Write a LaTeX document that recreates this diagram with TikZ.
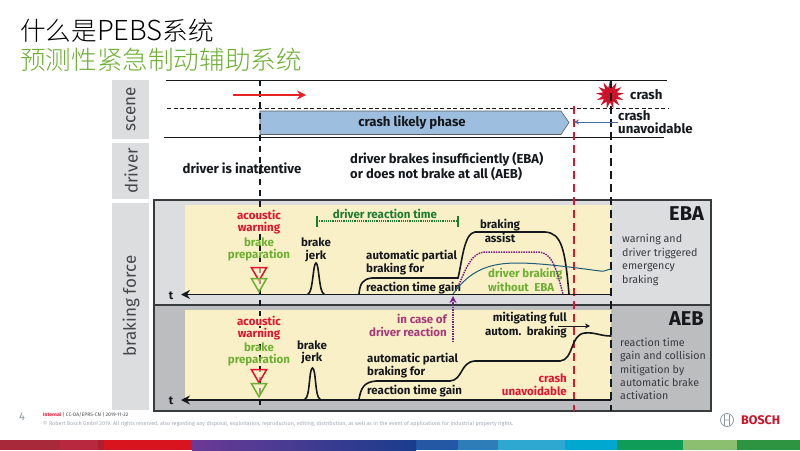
\documentclass[tikz,border=0pt]{standalone}
\usepackage{fontspec}
\setmainfont{Fira Sans}
\newfontfamily\cjk{Noto Sans CJK SC}[UprightFont=* Light]
\usetikzlibrary{arrows.meta, positioning, shapes.geometric}
\definecolor{ink}{HTML}{15181C}
\definecolor{panel}{HTML}{DCDDDF}
\definecolor{panelD}{HTML}{BCBDBF}
\definecolor{sand}{HTML}{FAF0C8}
\definecolor{phase}{HTML}{9DBEDF}
\definecolor{alarm}{HTML}{E2142D}
\definecolor{leaf}{HTML}{6CAF33}
\definecolor{forest}{HTML}{1E7A32}
\definecolor{plum}{HTML}{7B1E8C}
\definecolor{rose}{HTML}{A83A78}
\definecolor{steel}{HTML}{4A6FA0}
\definecolor{teal}{HTML}{1F5C7A}
\definecolor{soft}{HTML}{8A94A0}
\tikzset{
  lanetxt/.style={rotate=90, font=\fontsize{17}{17}\selectfont, text=ink!80},
  lbl/.style={font=\fontsize{11.5}{12}\bfseries\selectfont, inner sep=0pt, text=ink},
  big/.style={lbl, font=\fontsize{13.2}{12.5}\bfseries\selectfont},
  note/.style={font=\fontsize{10.7}{13.4}\selectfont, inner sep=0pt, anchor=west, align=left, text=ink!85},
  tag/.style={font=\fontsize{20}{20}\bfseries\selectfont, inner sep=0pt, anchor=east, text=ink},
  warn/.style={lbl, text=alarm},
  prep/.style={lbl, text=leaf},
  curve/.style={ink, line width=1.6pt, line cap=round},
  axis/.style={ink, line width=1.6pt, -{Stealth[length=9pt,width=9pt]}},
  mark/.style={draw=#1, fill=sand, fill opacity=0.6, line width=1.5pt, regular polygon, regular polygon sides=3, shape border rotate=180, minimum size=17.5pt, inner sep=0pt},
}
\begin{document}
\begin{tikzpicture}[x=1pt, y=-1pt]
    \useasboundingbox (0,0) rectangle (800,450);
    % title
    \node[anchor=west, inner sep=0pt, font=\fontsize{25.6}{26}\selectfont] (head) at (20,31) {\cjk 什么是{\fontsize{27.5}{26}\selectfont PEBS}系统};
    \node[anchor=west, inner sep=0pt, font=\fontsize{25.6}{26}\selectfont, text=leaf] (subhead) at (20,60) {\cjk 预测性紧急制动辅助系统};
    % lanes on the left
    \fill[panel] (112,80) rectangle (149,139);
    \fill[panel] (112,143) rectangle (149,199);
    \fill[panel] (112,203) rectangle (149,410);
    \node[lanetxt] (scene) at (131,109) {scene};
    \node[lanetxt] (driver) at (131,171) {driver};
    \node[lanetxt] (force) at (131,306) {braking force};
    % panels
    \fill[panel] (154,200) rectangle (711,305);
    \fill[panelD] (154,305) rectangle (711,411);
    \fill[sand] (185,205) rectangle (611,294);
    \fill[sand] (185,310) rectangle (611,399);
    \draw[ink!85, line width=1.3pt] (154,200) rectangle (711,411);
    \draw[ink!85, line width=1.3pt] (154,305) -- (711,305);
    % scene rules
    \coordinate (topA) at (166,80);
    \coordinate (topB) at (667,80);
    \coordinate (midA) at (167,108);
    \coordinate (midB) at (669,108);
    \coordinate (lowA) at (164,137);
    \coordinate (lowB) at (664,137);
    \draw[ink, line width=0.9pt] (topA) -- (topB);
    \draw[ink, line width=0.7pt, dash pattern=on 4pt off 2.5pt] (midA) -- (midB);
    \draw[ink, line width=0.9pt] (lowA) -- (lowB);
    % crash likely phase
    \fill[phase, draw=ink!70, line width=0.6pt] (260,111) -- (561,111) -- (569,122.5) -- (561,134.5) -- (260,134.5) -- cycle;
    \node[big] (likely) at (412,123) {crash likely phase};
    % vertical time marks
    \coordinate (warnA) at (260,80);
    \coordinate (warnB) at (260,410);
    \coordinate (lostA) at (574,106);
    \coordinate (lostB) at (574,411);
    \coordinate (hitA) at (611,80);
    \coordinate (hitB) at (611,411);
    \draw[ink, line width=1.1pt, dash pattern=on 6pt off 5pt] (warnA) -- (warnB);
    \draw[alarm, line width=1.6pt, dash pattern=on 8pt off 5pt] (lostA) -- (lostB);
    \node[star, star points=13, star point ratio=1.9, fill=alarm!90!black, inner sep=0pt, minimum size=28pt] (burst) at (610,95) {};
    \draw[ink, line width=1.5pt, dash pattern=on 8pt off 5pt] (hitA) -- (hitB);
    % scene labels
    \coordinate (carA) at (233,95);
    \coordinate (carB) at (306,95);
    \draw[alarm!85!orange, line width=1.4pt, -{Stealth[length=9pt,width=9pt]}] (carA) -- (carB);
    \node[big, anchor=west] (crash) at (630,95) {crash};
    \node[big, anchor=west, align=left] (unavoid) at (618,122) {crash\\unavoidable};
    \coordinate (lostP) at (574,122);
    \draw[steel, line width=0.9pt, -{Stealth[length=5pt,width=5pt]}] (unavoid.west) -- (lostP);
    % driver
    \node[big] (inatt) at (242,168) {driver is inattentive};
    \node[big, anchor=west, align=left, font=\fontsize{13}{15}\bfseries\selectfont] (brakes) at (350,166.5) {driver brakes insufficiently (EBA)\\or does not brake at all (AEB)};
    % EBA
    \node[tag] (eba) at (704,214) {EBA};
    \node[note] (ebanote) at (622,260) {warning and\\driver triggered\\emergency\\braking};
    \node[warn, fill=sand] (acA) at (259,215) {acoustic};
    \node[warn, fill=sand] (waA) at (259,228) {warning};
    \node[prep] (brA) at (259,242) {brake};
    \node[prep] (prA) at (259,255) {preparation};
    \node[mark=alarm] (reA) at (259,272) {};
    \node[mark=leaf] (grA) at (259,283) {};
    \node[lbl] (jkA) at (316,242) {brake};
    \node[lbl] (jkB) at (316,256) {jerk};
    \node[lbl, anchor=west] (auA) at (366,256) {automatic partial};
    \node[lbl, anchor=west] (auB) at (366,269) {braking for};
    \node[lbl, anchor=west] (auC) at (366,288) {reaction time gain};
    \node[lbl] (asA) at (500,225) {braking};
    \node[lbl] (asB) at (500,238) {assist};
    \node[prep, anchor=west] (dbA) at (488,274) {driver braking};
    \node[prep, anchor=west] (dbB) at (488,287) {without\ \ EBA};
    \node[lbl, text=forest] (react) at (385,214) {driver reaction time};
    \coordinate (reactA) at (317,221);
    \coordinate (reactB) at (458,221);
    \draw[forest, line width=1.2pt, densely dotted] (reactA) -- (reactB);
    \draw[forest, line width=1.2pt] (317,215.5) -- (317,226.5) (458,215.5) -- (458,226.5);
    % EBA curves
    \draw[curve] (308,294) .. controls (313,293) and (313,263) .. (316,263) .. controls (319,263) and (319,293) .. (324,294);
    \draw[curve] (359,294) .. controls (360,283) and (363,279) .. (372,278) -- (458,278) .. controls (462,262) and (464,233) .. (475,232) -- (545,232) .. controls (562,233) and (565,250) .. (569,294);
    \draw[plum, line width=1.5pt, densely dotted] (458,287) .. controls (466,268) and (472,252) .. (485,252) -- (538,252) .. controls (552,252) and (556,268) .. (563,294);
    \draw[teal, line width=1pt] (453,294) .. controls (470,270) and (490,263) .. (517,263) .. controls (540,263) and (570,267) .. (600,271) .. controls (605,272) and (608,269) .. (611,269);
    \coordinate (axA) at (611,294.5);
    \coordinate (axB) at (181,294.5);
    \draw[axis] (axA) -- (axB);
    \node[lbl] (tA) at (171,296) {t};
    % AEB
    \node[tag] (aeb) at (704,319) {AEB};
    \node[note] (aebnote) at (620,369) {reaction time\\gain and collision\\mitigation by\\automatic brake\\activation};
    \node[warn, fill=sand] (acC) at (259,321) {acoustic};
    \node[warn, fill=sand] (waC) at (259,334) {warning};
    \node[prep] (brC) at (259,347) {brake};
    \node[prep] (prC) at (259,360) {preparation};
    \node[mark=alarm] (reC) at (259,374) {};
    \node[mark=leaf] (grC) at (259,388) {};
    \node[lbl] (jkC) at (312,345) {brake};
    \node[lbl] (jkD) at (312,358) {jerk};
    \node[lbl, anchor=west] (auD) at (367,359) {automatic partial};
    \node[lbl, anchor=west] (auE) at (367,372) {braking for};
    \node[lbl, anchor=west] (auF) at (367,391) {reaction time gain};
    \node[lbl, anchor=east, text=rose] (caseA) at (447,319) {in case of};
    \node[lbl, anchor=east, text=rose] (caseB) at (447,332) {driver reaction};
    \node[lbl, anchor=east] (miA) at (567,318) {mitigating full};
    \node[lbl, anchor=east] (miB) at (567,332) {autom.\ \ braking};
    \node[warn, anchor=east] (unA) at (567,378) {crash};
    \node[warn, anchor=east] (unB) at (567,391) {unavoidable};
    \coordinate (miP) at (558,326);
    \coordinate (miQ) at (590,326);
    \draw[ink, line width=0.8pt, -{Stealth[length=5pt,width=5pt]}] (miP) -- (miQ);
    \coordinate (inA) at (453,342);
    \coordinate (inB) at (453,296);
    \draw[plum, line width=1.4pt, densely dotted, -{Stealth[length=7pt,width=7pt]}] (inA) -- (inB);
    % AEB curves
    \draw[curve] (305,399) .. controls (310,398) and (309,368) .. (312.5,368) .. controls (316,368) and (315,398) .. (320,399);
    \draw[curve] (359,399) .. controls (361,388) and (364,382) .. (376,381) -- (450,381) .. controls (463,380) and (460,362) .. (475,361) -- (560,361) .. controls (574,360) and (570,334) .. (585,333) .. controls (595,332) and (600,336) .. (611,336);
    \coordinate (axC) at (611,400);
    \coordinate (axD) at (181,400);
    \draw[axis] (axC) -- (axD);
    \node[lbl] (tB) at (171,401) {t};
    % footer
    \node[anchor=west, inner sep=0pt, font=\fontsize{11}{11}\selectfont, text=soft] (page) at (19,417) {4};
    \node[anchor=west, inner sep=0pt, font=\fontsize{5}{5}\selectfont, text=ink!80] (stamp) at (43,415) {\textcolor{alarm}{\bfseries Internal} | CC-DA/EPR5-CN | 2019-11-22};
    \node[anchor=west, inner sep=0pt, font=\fontsize{5.4}{5}\selectfont, text=soft!80] (legal) at (43,423.5) {© Robert Bosch GmbH 2019. All rights reserved, also regarding any disposal, exploitation, reproduction, editing, distribution, as well as in the event of applications for industrial property rights.};
    \draw[soft, line width=0.8pt] (727,420) circle (6.5pt) (724.5,415) -- (724.5,425) (729.5,415) -- (729.5,425) (724.5,420) -- (729.5,420);
    \node[anchor=west, inner sep=0pt, font=\fontsize{12.5}{13}\bfseries\selectfont, text=alarm!90!black] (bosch) at (741,420) {BOSCH};
    % colour bar
    \foreach \xa/\xb/\barc in {0/60/A82A3A, 60/98/B8283F, 98/104/A82030, 104/192/D8141E, 416/458/2458A4, 458/498/2F7DB8, 498/565/2EA8D0, 565/617/00A8D0, 617/683/0E9C58, 683/737/8CC070, 737/800/2E9442} {
      \definecolor{barfill}{HTML}{\barc}
      \fill[barfill] (\xa,440) rectangle (\xb,450);
    }
    \definecolor{barL}{HTML}{6A3A96}
    \definecolor{barR}{HTML}{1A3C8C}
    \shade[left color=barL, right color=barR] (192,440) rectangle (416,450);
  \end{tikzpicture}
\end{document}
